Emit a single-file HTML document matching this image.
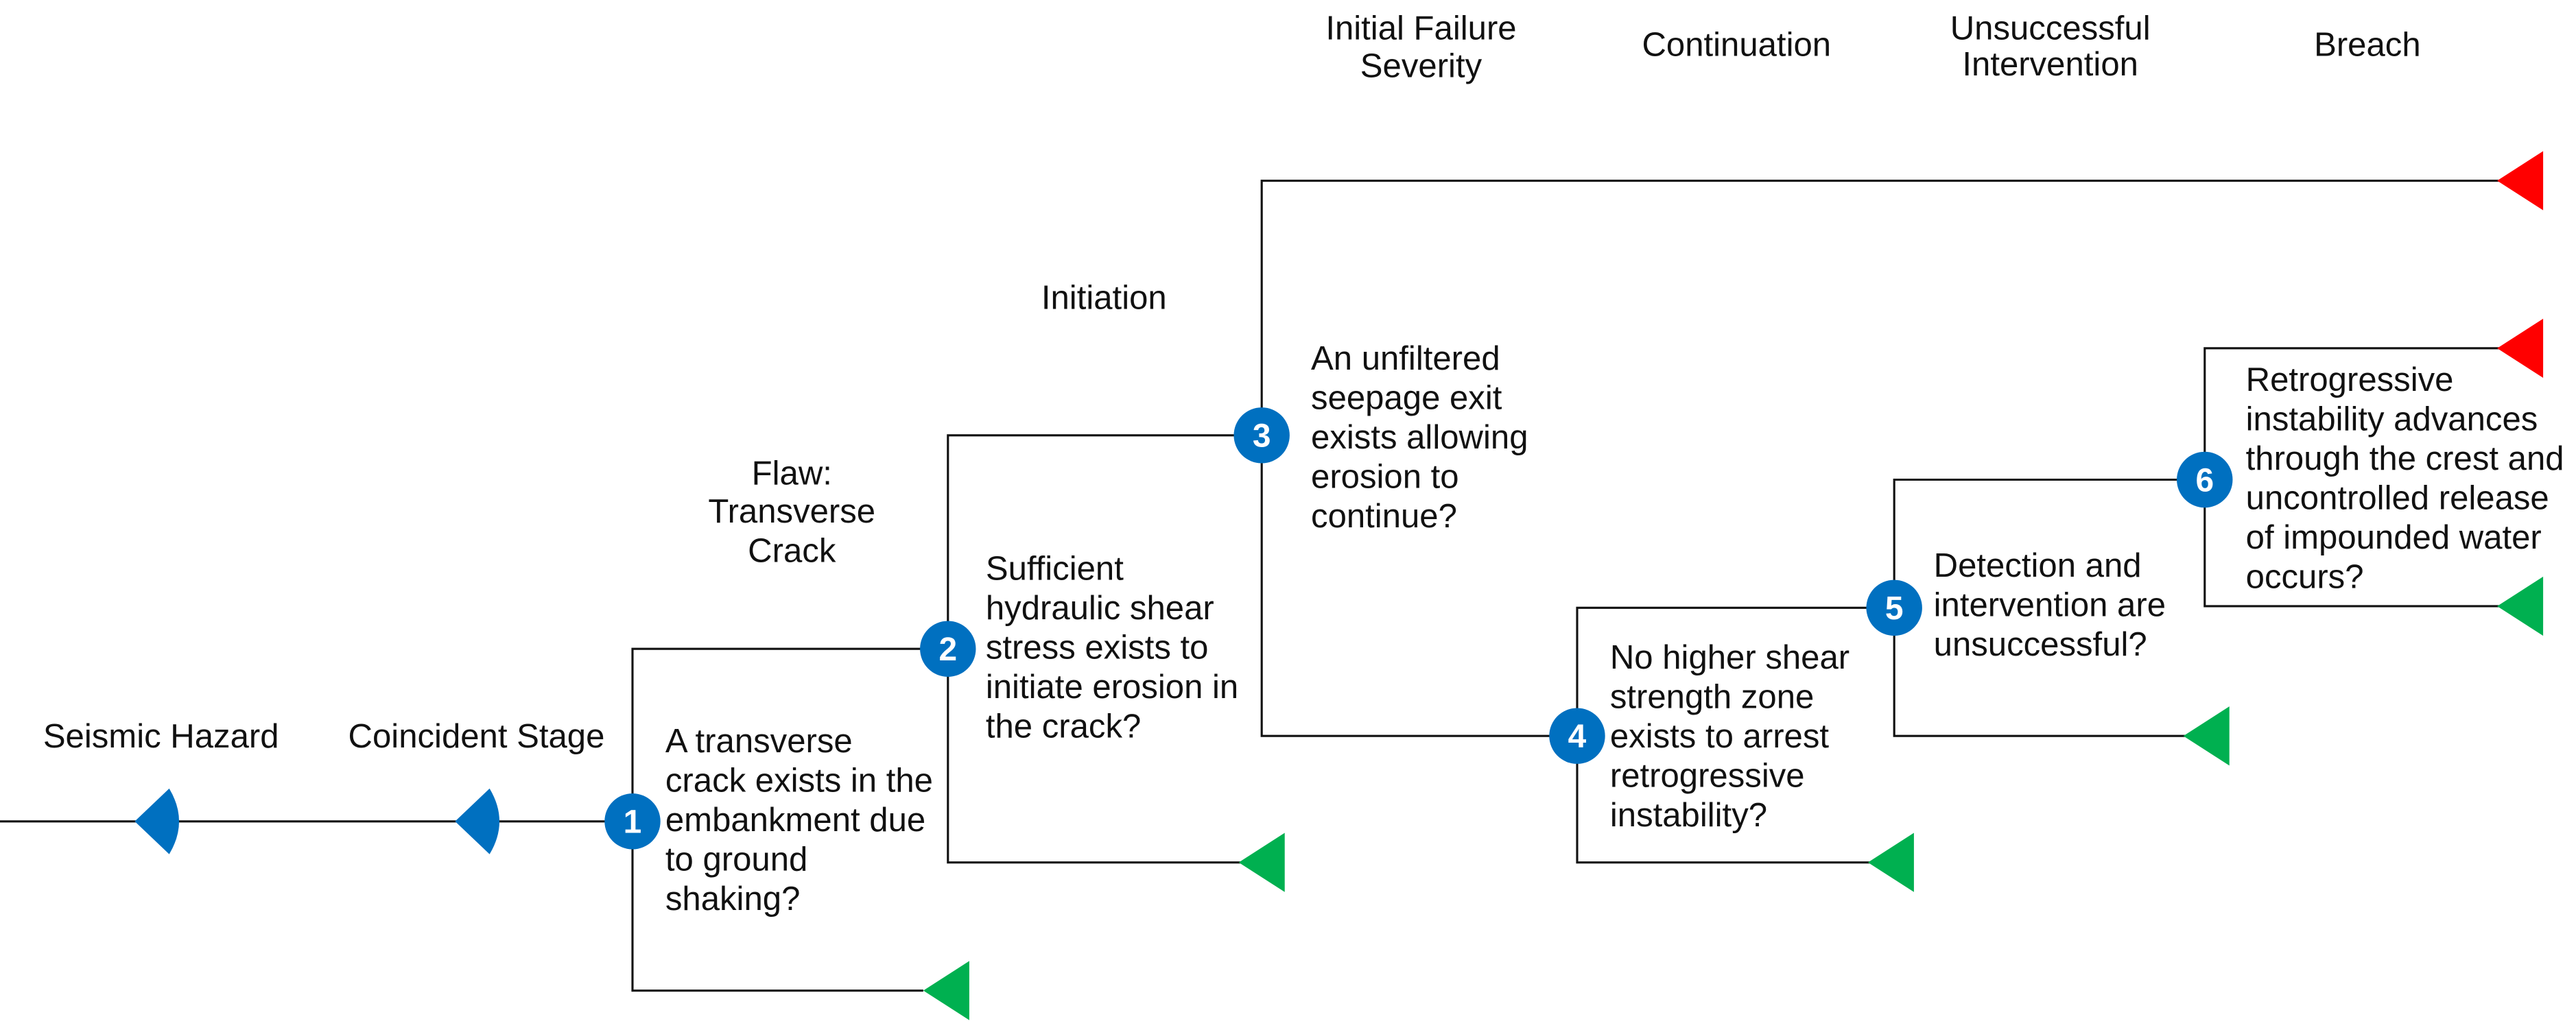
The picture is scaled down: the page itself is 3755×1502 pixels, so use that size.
<!DOCTYPE html>
<html><head><meta charset="utf-8"><style>
html,body{margin:0;padding:0;background:#fff;}
svg{display:block;}
text{font-family:"Liberation Sans",Arial,sans-serif;font-size:20.5px;fill:#111;}
.c{text-anchor:middle;}
.n{fill:#fff;font-weight:bold;font-size:20px;text-anchor:middle;}
</style></head><body>
<svg width="3755" height="1502" viewBox="0 0 1568 627" preserveAspectRatio="none" xmlns="http://www.w3.org/2000/svg">
<g stroke="#111" stroke-width="1.3" fill="none">
<path d="M0,500 H385"/>
<path d="M562,603 H385 V395 H577"/>
<path d="M756,525 H577 V265 H768"/>
<path d="M1522,110 H768 V448 H960"/>
<path d="M1140,525 H960 V370 H1153"/>
<path d="M1331,448 H1153 V292 H1342"/>
<path d="M1522,212 H1342 V369 H1522"/>
</g>
<g fill="#0070C0">
<path d="M82,500 L103,480 Q115,500 103,520 Z"/>
<path d="M277,500 L298,480 Q310,500 298,520 Z"/>
</g>
<g fill="#00B050">
<path d="M562,603 L590,585 V621 Z"/>
<path d="M754,525 L782,507 V543 Z"/>
<path d="M1137,525 L1165,507 V543 Z"/>
<path d="M1329,448 L1357,430 V466 Z"/>
<path d="M1520,369 L1548,351 V387 Z"/>
</g>
<g fill="#FF0000">
<path d="M1520,110 L1548,92 V128 Z"/>
<path d="M1520,212 L1548,194 V230 Z"/>
</g>
<g fill="#0070C0">
<circle cx="385" cy="500" r="17"/>
<circle cx="577" cy="395" r="17"/>
<circle cx="768" cy="265" r="17"/>
<circle cx="960" cy="448" r="17"/>
<circle cx="1153" cy="370" r="17"/>
<circle cx="1342" cy="292" r="17"/>
</g>
<text class="n" x="385" y="507">1</text>
<text class="n" x="577" y="402">2</text>
<text class="n" x="768" y="272">3</text>
<text class="n" x="960" y="455">4</text>
<text class="n" x="1153" y="377">5</text>
<text class="n" x="1342" y="299">6</text>

<text class="c" x="98" y="455">Seismic Hazard</text>
<text class="c" x="290" y="455">Coincident Stage</text>
<text class="c" x="482" y="295">Flaw:</text>
<text class="c" x="482" y="318">Transverse</text>
<text class="c" x="482" y="342">Crack</text>
<text class="c" x="672" y="188">Initiation</text>
<text class="c" x="865" y="24">Initial Failure</text>
<text class="c" x="865" y="47">Severity</text>
<text class="c" x="1057" y="34">Continuation</text>
<text class="c" x="1248" y="24">Unsuccessful</text>
<text class="c" x="1248" y="46">Intervention</text>
<text class="c" x="1441" y="34">Breach</text>

<text x="405" y="458">A transverse</text>
<text x="405" y="482">crack exists in the</text>
<text x="405" y="506">embankment due</text>
<text x="405" y="530">to ground</text>
<text x="405" y="554">shaking?</text>

<text x="600" y="353">Sufficient</text>
<text x="600" y="377">hydraulic shear</text>
<text x="600" y="401">stress exists to</text>
<text x="600" y="425">initiate erosion in</text>
<text x="600" y="449">the crack?</text>

<text x="798" y="225">An unfiltered</text>
<text x="798" y="249">seepage exit</text>
<text x="798" y="273">exists allowing</text>
<text x="798" y="297">erosion to</text>
<text x="798" y="321">continue?</text>

<text x="980" y="407">No higher shear</text>
<text x="980" y="431">strength zone</text>
<text x="980" y="455">exists to arrest</text>
<text x="980" y="479">retrogressive</text>
<text x="980" y="503">instability?</text>

<text x="1177" y="351">Detection and</text>
<text x="1177" y="375">intervention are</text>
<text x="1177" y="399">unsuccessful?</text>

<text x="1367" y="238">Retrogressive</text>
<text x="1367" y="262">instability advances</text>
<text x="1367" y="286">through the crest and</text>
<text x="1367" y="310">uncontrolled release</text>
<text x="1367" y="334">of impounded water</text>
<text x="1367" y="358">occurs?</text>
</svg>
</body></html>
